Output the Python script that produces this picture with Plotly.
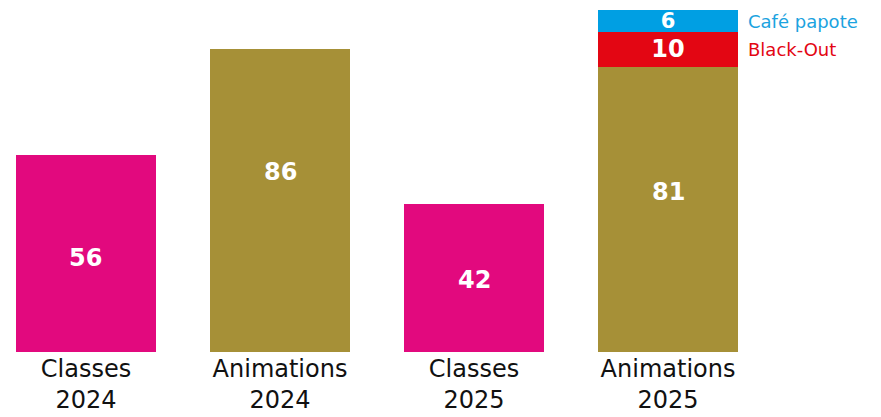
import plotly.graph_objects as go

categories = ["Classes<br>2024", "Animations<br>2024", "Classes<br>2025", "Animations<br>2025"]
base_values = [56, 86, 42, 81]
base_colors = ["#E2097E", "#A69037", "#E2097E", "#A69037"]
blackout_values = [None, None, None, 10]
cafe_values = [None, None, None, 6]
side_labels = ["Café papote", "Black-Out"]

# vertical nudge (px) of the base value labels from the bar middle
label_nudge = [-5, 29, -2, 17]

FONT = "DejaVu Sans"

fig = go.Figure()
common = dict(textposition="inside", insidetextanchor="middle", textangle=0,
              constraintext="none", width=0.72, showlegend=False,
              hoverinfo="skip", marker_line_width=0)
fig.add_trace(go.Bar(x=categories, y=base_values, marker_color=base_colors, **common))
fig.add_trace(go.Bar(
    x=categories, y=blackout_values, marker_color="#E30613", text=blackout_values,
    textfont=dict(family=FONT, size=24, color="white", weight="bold"), **common))
fig.add_trace(go.Bar(
    x=categories, y=cafe_values, marker_color="#009FE3", text=cafe_values,
    textfont=dict(family=FONT, size=21, color="white", weight="bold"), **common))

for cat, v, dy in zip(categories, base_values, label_nudge):
    fig.add_annotation(x=cat, y=v / 2, text=str(v), showarrow=False, yshift=dy,
                       font=dict(family=FONT, size=24, color="white", weight="bold"))

side_y = [81 + 10 + 6 / 2, 81 + 10 / 2]
side_colors = ["#1BA3E0", "#E30613"]
for t, yy, c in zip(side_labels, side_y, side_colors):
    fig.add_annotation(x=3.42, y=yy, text=t, showarrow=False, xanchor="left",
                       yanchor="middle", xshift=-4,
                       font=dict(family=FONT, size=18, color=c))

fig.update_layout(
    barmode="stack", width=881, height=417,
    margin=dict(l=0, r=0, t=0, b=73),
    plot_bgcolor="white", paper_bgcolor="white",
    xaxis=dict(range=[-0.402, 4.139], showgrid=False, showline=False, ticks="",
               tickfont=dict(family=FONT, size=24, color="#111111"), fixedrange=True),
    yaxis=dict(range=[0, 97.7], visible=False, fixedrange=True),
)
fig.write_html("out.html")
